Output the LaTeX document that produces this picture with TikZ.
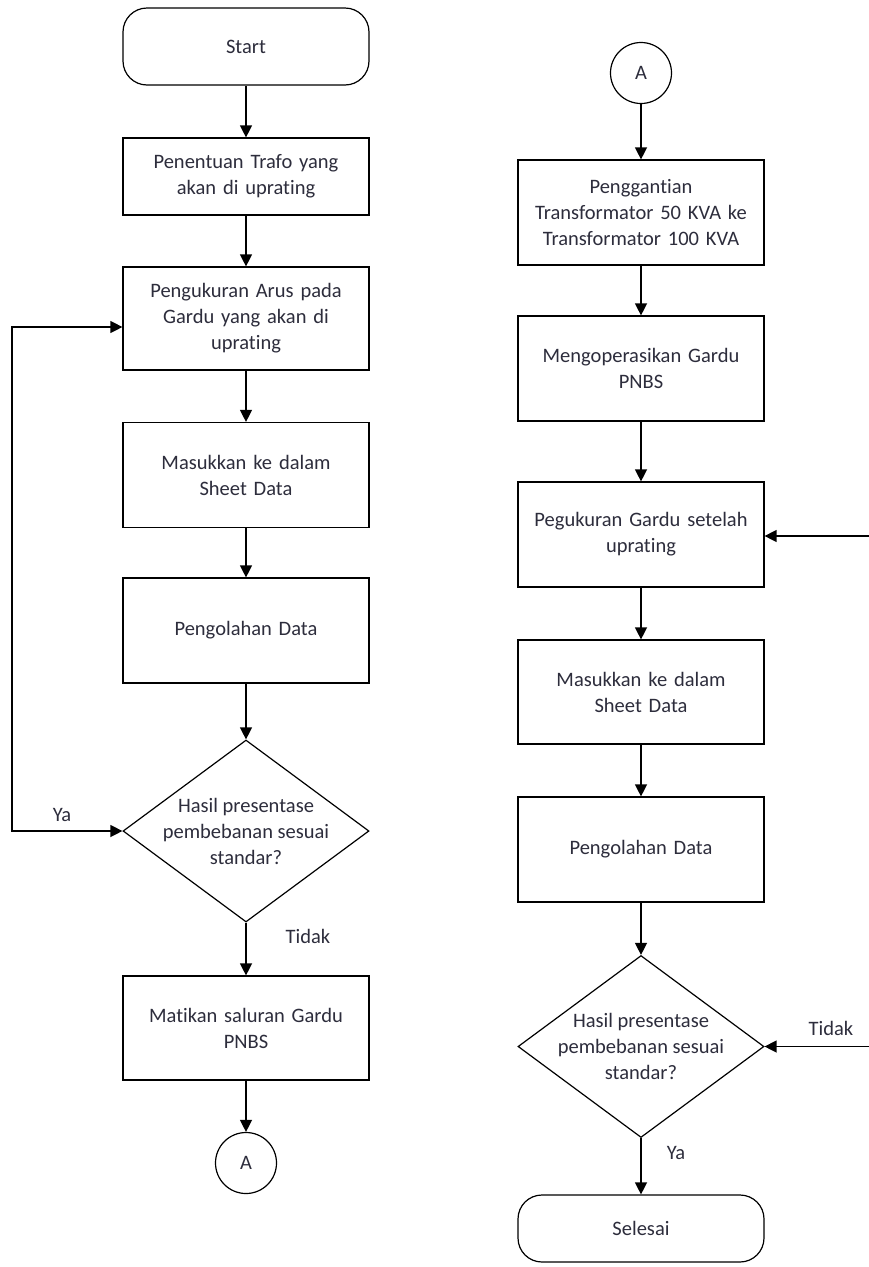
\documentclass[tikz,border=0pt]{standalone}
\usepackage{fontspec}
\setmainfont{Carlito}[RawFeature=-liga]
\usetikzlibrary{arrows.meta,shapes.geometric}
\definecolor{txt}{RGB}{45,45,60}
\begin{document}
\begin{tikzpicture}[x=1pt,y=-1pt,
  lbl/.style={font=\fontsize{20.5}{26}\selectfont, text=txt, align=center, inner sep=0pt},
  box/.style={lbl, draw=black, line width=1.2pt, minimum width=246pt, text width=236pt, fill=white},
  term/.style={box, rounded corners=24pt},
  dia/.style={draw=black, line width=1.2pt, diamond, minimum width=246pt, minimum height=182pt, inner sep=0pt, fill=white},
  conn/.style={draw=black, line width=1.2pt, inner sep=0pt, circle, minimum size=61pt, lbl},
  arr/.style={line width=1.3pt, -{Triangle[length=12pt,width=12pt]}},
  arrb/.style={line width=1.3pt, {Triangle[length=12pt,width=12pt]}-{Triangle[length=12pt,width=12pt]}}
]
\useasboundingbox (0,0) rectangle (869,1267);
% left column
\node[term, minimum height=77pt] (start) at (246,46.5) {Start};
\node[box, minimum height=77pt] (b1) at (246,176.5) {Penentuan Trafo yang\\akan di uprating};
\node[box, minimum height=103pt] (b2) at (246,318.5) {Pengukuran Arus pada\\Gardu yang akan di\\uprating};
\node[box, minimum height=105pt] (b3) at (246,475) {Masukkan ke dalam\\Sheet Data};
\node[box, minimum height=105pt] (b4) at (246,630.5) {Pengolahan Data};
\node[dia] (d1) at (246,831) {};
\node[lbl] (d1t) at (246,831) {Hasil presentase\\pembebanan sesuai\\standar?};
\node[box, minimum height=104pt] (b5) at (246,1028) {Matikan saluran Gardu\\PNBS};
\node[conn] (a1) at (246,1163) {A};
% right column
\node[conn] (a2) at (641,73) {A};
\node[box, minimum height=105pt] (b6) at (641,212.5) {Penggantian\\Transformator 50 KVA ke\\Transformator 100 KVA};
\node[box, minimum height=105pt] (b7) at (641,368.5) {Mengoperasikan Gardu\\PNBS};
\node[box, minimum height=105pt] (b8) at (641,534.5) {Pegukuran Gardu setelah\\uprating};
\node[box, minimum height=104pt] (b9) at (641,692) {Masukkan ke dalam\\Sheet Data};
\node[box, minimum height=105pt] (b10) at (641,849.5) {Pengolahan Data};
\node[dia] (d2) at (641,1046.5) {};
\node[lbl] (d2t) at (641,1046.5) {Hasil presentase\\pembebanan sesuai\\standar?};
\node[term, minimum height=67pt] (sel) at (641,1228.5) {Selesai};
% labels
\node[lbl] (ya1) at (62,815) {Ya};
\node[lbl] (td1) at (308,936) {Tidak};
\node[lbl] (td2) at (831,1028) {Tidak};
\node[lbl] (ya2) at (676,1153) {Ya};
% connectors left
\draw[arr] (start) -- (b1);
\draw[arr] (b1) -- (b2);
\draw[arr] (b2) -- (b3);
\draw[arr] (b3) -- (b4);
\draw[arr] (b4) -- (d1);
\draw[arr] (d1) -- (b5);
\draw[arr] (b5) -- (a1);
\coordinate (yl1) at (12,327);
\coordinate (yl2) at (12,831);
\draw[arrb] (b2.west |- yl1) -- (yl1) -- (yl2) -- (d1.west);
% connectors right
\draw[arr] (a2) -- (b6);
\draw[arr] (b6) -- (b7);
\draw[arr] (b7) -- (b8);
\draw[arr] (b8) -- (b9);
\draw[arr] (b9) -- (b10);
\draw[arr] (b10) -- (d2);
\draw[arr] (d2) -- (sel);
\coordinate (r1) at (869,536);
\coordinate (r2) at (869,1046.5);
\draw[arr] (r1) -- (b8.east |- r1);
\draw[arr] (r2) -- (d2.east);
\end{tikzpicture}
\end{document}
